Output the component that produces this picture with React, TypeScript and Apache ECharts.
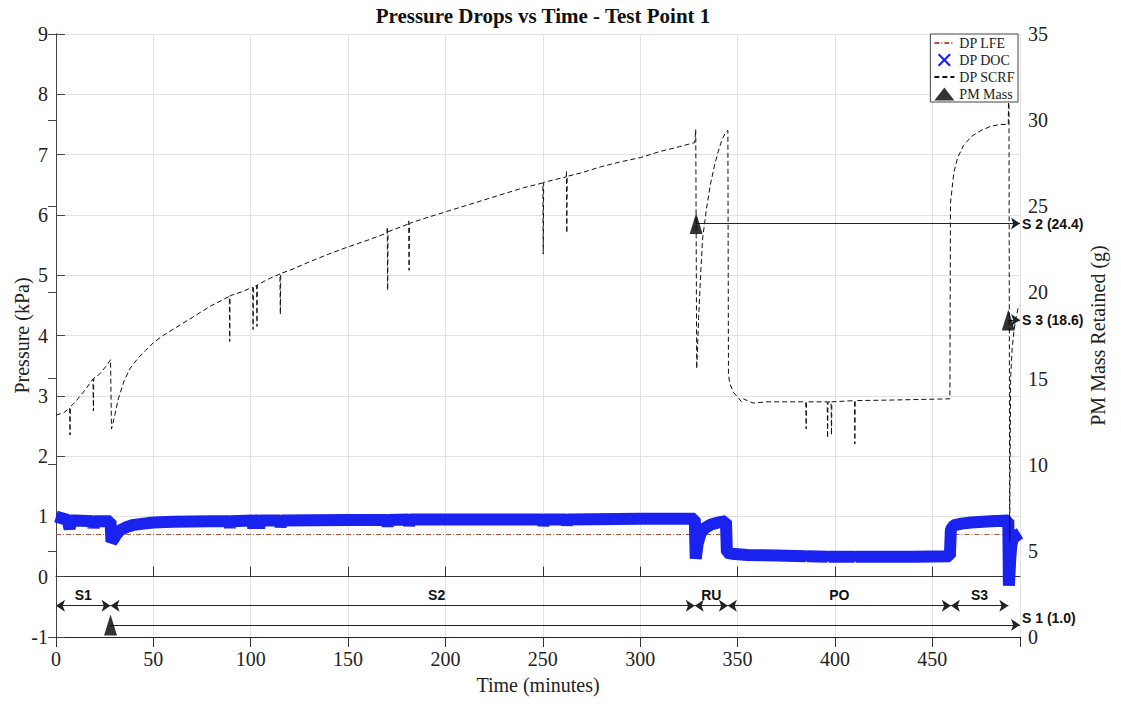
import React, { useEffect, useRef } from "react";
import * as echarts from "echarts";

// ---- data (time in minutes, pressure in kPa, PM mass in g) ----
const lfePoints: [number, number][] = [
  [0, 0.7], [100, 0.7], [200, 0.7], [328, 0.7], [345, 0.7], [345.5, 0.34], [459, 0.34], [459.5, 0.7], [489, 0.7],
];

const docPoints: [number, number][] = [
  [0, 1.0], [3, 0.97], [6, 0.94], [7, 0.79], [7.5, 0.93], [10, 0.93], [19, 0.92], [19.3, 0.81], [19.8, 0.92],
  [28, 0.92], [28.5, 0.58], [29.5, 0.62], [31, 0.7], [33, 0.77], [36, 0.82], [40, 0.86], [45, 0.88], [50, 0.9],
  [60, 0.91], [80, 0.92], [89, 0.92], [89.3, 0.81], [89.7, 0.92], [101, 0.93], [101.3, 0.8], [101.7, 0.93],
  [104, 0.93], [104.3, 0.8], [104.7, 0.93], [115, 0.93], [115.3, 0.82], [115.7, 0.93], [150, 0.94],
  [170, 0.94], [170.3, 0.83], [170.7, 0.94], [181, 0.95], [181.3, 0.84], [181.7, 0.95], [200, 0.95],
  [250, 0.95], [250.3, 0.84], [250.7, 0.95], [262, 0.95], [262.3, 0.85], [262.7, 0.95], [300, 0.96],
  [328, 0.96], [328.5, 0.3], [329.5, 0.55], [331, 0.72], [333, 0.8], [336, 0.86], [340, 0.9], [344, 0.92],
  [344.5, 0.4], [347, 0.38], [355, 0.36], [370, 0.35], [385, 0.34], [385.3, 0.27], [385.7, 0.34],
  [396, 0.33], [396.3, 0.27], [396.7, 0.33], [410, 0.33], [410.3, 0.27], [410.7, 0.33], [440, 0.33],
  [459, 0.34], [459.5, 0.78], [461, 0.85], [465, 0.88], [470, 0.9], [480, 0.92], [489, 0.93],
  [489.3, -0.15], [490, 0.3], [490.5, 0.5], [491, 0.6], [492, 0.65], [494, 0.7], [495, 0.72],
];

const scrfPoints: [number, number][] = [
  [0, 2.68], [4, 2.72], [7, 2.8], [7.2, 2.35], [7.4, 2.82], [10, 2.9], [15, 3.1], [19, 3.28], [19.2, 2.75],
  [19.4, 3.29], [22, 3.35], [26, 3.5], [28, 3.6], [28.5, 2.45], [30, 2.65], [32, 2.95], [35, 3.25],
  [38, 3.45], [42, 3.62], [46, 3.75], [50, 3.88], [55, 4.0], [60, 4.1], [65, 4.2], [70, 4.3], [75, 4.4],
  [80, 4.5], [85, 4.58], [89, 4.65], [89.2, 3.9], [89.4, 4.66], [95, 4.72], [101, 4.8], [101.2, 4.1],
  [101.4, 4.81], [103, 4.83], [103.2, 4.15], [103.4, 4.84], [110, 4.95], [115, 5.02], [115.2, 4.35],
  [115.4, 5.03], [120, 5.08], [130, 5.22], [140, 5.35], [150, 5.47], [160, 5.58], [170, 5.7], [170.1, 5.8],
  [170.3, 4.75], [170.5, 5.72], [181, 5.85], [181.1, 5.9], [181.3, 5.08], [181.5, 5.86], [190, 5.95],
  [200, 6.05], [210, 6.15], [220, 6.25], [230, 6.35], [240, 6.45], [250, 6.53], [250.2, 5.35],
  [250.4, 6.54], [262, 6.63], [262.1, 6.72], [262.3, 5.7], [262.5, 6.64], [270, 6.7], [280, 6.8],
  [290, 6.88], [300, 6.95], [310, 7.05], [320, 7.13], [328, 7.2], [328.5, 7.42], [329, 3.45], [330, 4.3],
  [331, 5.0], [332, 5.6], [334, 6.1], [336, 6.5], [338, 6.8], [340, 7.05], [342, 7.25], [344, 7.38],
  [345, 7.4], [345.3, 3.35], [346, 3.2], [348, 3.05], [350, 2.98], [352, 2.9], [353, 2.95], [355, 2.92],
  [358, 2.88], [365, 2.9], [380, 2.9], [385, 2.9], [385.2, 2.45], [385.4, 2.9], [396, 2.9], [396.2, 2.3],
  [396.4, 2.9], [398, 2.9], [398.2, 2.35], [398.4, 2.9], [410, 2.92], [410.2, 2.2], [410.4, 2.92],
  [430, 2.93], [459, 2.95], [459.3, 6.2], [460, 6.4], [461, 6.7], [463, 6.95], [466, 7.15], [470, 7.3],
  [475, 7.4], [480, 7.47], [485, 7.5], [489, 7.5], [489.3, 8.6], [489.7, 0.6], [490.2, 3.3], [491, 3.8],
  [492, 4.1], [493, 4.3], [494, 4.45], [495, 4.5],
];

// PM mass retained at the end of each soot loading stage (positions)
const pmTimes = [28, 328.7, 489];
const pmMass = [0.7, 24.0, 18.4];
const pmLabels = ["S 1 (1.0)", "S 2 (24.4)", "S 3 (18.6)"];

// test phases
const phaseNames = ["S1", "S2", "RU", "PO", "S3"];
const phaseStart = [0, 28, 328, 345, 459.5];
const phaseEnd = [28, 328, 345, 459.5, 489];
const phaseLevel = -0.48;

const xMin = 0;
const xMax = 495;
const serif = "Liberation Serif";
const sans = "Liberation Sans";

const crossIcon =
  "path://M0,1.2L1.2,0L5,3.8L8.8,0L10,1.2L6.2,5L10,8.8L8.8,10L5,6.2L1.2,10L0,8.8L3.8,5Z";

export default function App() {
  const ref = useRef<HTMLDivElement>(null);

  useEffect(() => {
    document.body.style.margin = "0";
    if (!ref.current) return;
    const chart = echarts.init(ref.current, undefined, { renderer: "svg" });

    const phaseLines = phaseNames.map((n, i) => [
      { name: n, coord: [phaseStart[i], phaseLevel], label: n === "S2" ? { offset: [34, 0] } : undefined },
      { coord: [phaseEnd[i], phaseLevel] },
    ]);

    const massLines = pmMass.map((m, i) => [
      { name: pmLabels[i], coord: [pmTimes[i], m], label: i === 0 ? { offset: [0, -7] } : undefined },
      { coord: [xMax, m], label: i === 0 ? { offset: [0, -7] } : undefined },
    ]);

    const option: any = {
      animation: false,
      backgroundColor: "#fff",
      title: {
        text: "Pressure Drops vs Time - Test Point 1",
        left: 538,
        textAlign: "center",
        top: 0,
        textStyle: { fontFamily: serif, fontWeight: "bold", fontSize: 21, color: "#111" },
      },
      legend: {
        orient: "vertical",
        right: 103,
        top: 34,
        z: 20,
        itemGap: 3,
        itemWidth: 20,
        itemHeight: 13,
        padding: [2, 3, 1, 3],
        borderColor: "#444",
        borderWidth: 1,
        backgroundColor: "#fff",
        textStyle: { fontFamily: serif, fontSize: 14, color: "#222" },
        data: [
          { name: "DP LFE", itemStyle: { opacity: 0 } },
          { name: "DP DOC", icon: crossIcon, itemHeight: 8 },
          { name: "DP SCRF", itemStyle: { opacity: 0 } },
          { name: "PM Mass", icon: "triangle" },
        ],
      },
      grid: { left: 56, right: 101, top: 34, bottom: 67, outerBoundsMode: "none", containLabel: false },
      xAxis: [
        {
          type: "value",
          min: xMin,
          max: xMax,
          interval: 50,
          position: "bottom",
          name: "Time (minutes)",
          nameLocation: "middle",
          nameGap: 38,
          nameMoveOverlap: false,
          nameTextStyle: { fontFamily: serif, fontSize: 20, color: "#222" },
          axisLine: { show: true, lineStyle: { color: "#333", width: 1 } },
          axisTick: { show: true, inside: true, length: 10, lineStyle: { color: "#333" } },
          axisLabel: { fontFamily: serif, fontSize: 20, color: "#222", margin: 12, showMaxLabel: false },
          splitLine: { show: true, lineStyle: { color: "#e2e2e2", width: 1 } },
        },
        {
          type: "value",
          min: xMin,
          max: xMax,
          interval: 50,
          position: "top",
          axisLine: { show: true, lineStyle: { color: "#222", width: 1 } },
          axisTick: { show: true, inside: true, length: 10, lineStyle: { color: "#333" } },
          axisLabel: { show: false },
          splitLine: { show: false },
        },
      ],
      yAxis: [
        {
          type: "value",
          min: -1,
          max: 9,
          interval: 1,
          position: "left",
          name: "Pressure (kPa)",
          nameLocation: "middle",
          nameGap: 24,
          nameRotate: 90,
          nameMoveOverlap: false,
          nameTextStyle: { fontFamily: serif, fontSize: 20, color: "#222" },
          axisLine: { show: true, lineStyle: { color: "#444", width: 1 } },
          axisTick: { show: true, inside: true, length: 9, lineStyle: { color: "#444" } },
          axisLabel: { fontFamily: serif, fontSize: 20, color: "#222", margin: 8 },
          splitLine: { show: true, lineStyle: { color: "#e2e2e2", width: 1 } },
        },
        {
          type: "value",
          min: 0,
          max: 35,
          interval: 5,
          position: "right",
          name: "PM Mass Retained (g)",
          nameLocation: "middle",
          nameGap: 68,
          nameRotate: 90,
          nameTextStyle: { fontFamily: serif, fontSize: 20, color: "#222" },
          axisLine: { show: true, lineStyle: { color: "#444", width: 1 } },
          axisTick: { show: true, inside: true, length: 8, lineStyle: { color: "#444" } },
          axisLabel: { fontFamily: serif, fontSize: 20, color: "#222", margin: 8 },
          splitLine: { show: false },
        },
      ],
      series: [
        {
          name: "DP LFE",
          type: "line",
          xAxisIndex: 0,
          yAxisIndex: 0,
          data: lfePoints,
          symbol: "none",
          z: 2,
          lineStyle: { color: "#b5543c", width: 1, type: [5, 2, 1, 2] },
          itemStyle: { color: "#b5543c" },
          markLine: {
            silent: true,
            symbol: ["arrow", "arrow"],
            symbolSize: 9,
            lineStyle: { color: "#222", width: 1.2, type: "solid" },
            label: {
              show: true,
              position: "middle",
              formatter: (p: any) => phaseNames[p.dataIndex],
              fontFamily: sans,
              fontWeight: "bold",
              fontSize: 14,
              color: "#111",
              distance: 4,
            },
            data: phaseLines,
          },
        },
        {
          name: "DP DOC",
          type: "line",
          xAxisIndex: 0,
          yAxisIndex: 0,
          data: docPoints,
          symbol: "none",
          z: 3,
          lineStyle: { color: "#1a22f0", width: 12 },
          itemStyle: { color: "#1a22f0" },
        },
        {
          name: "DP SCRF",
          type: "line",
          xAxisIndex: 0,
          yAxisIndex: 0,
          data: scrfPoints,
          symbol: "none",
          z: 4,
          lineStyle: { color: "#111", width: 1, type: [5, 3] },
          itemStyle: { color: "#111" },
        },
        {
          name: "PM Mass",
          type: "scatter",
          xAxisIndex: 0,
          yAxisIndex: 1,
          clip: false,
          data: pmTimes.map((t, i) => [t, pmMass[i]]),
          symbol: "triangle",
          symbolSize: [13, 21],
          z: 6,
          itemStyle: { color: "#000" },
          markLine: {
            silent: true,
            symbol: ["none", "arrow"],
            symbolSize: 9,
            lineStyle: { color: "#222", width: 1.2, type: "solid" },
            label: {
              show: true,
              position: "end",
              distance: 2,
              formatter: (p: any) => pmLabels[p.dataIndex],
              fontFamily: sans,
              fontWeight: "bold",
              fontSize: 14,
              color: "#111",
            },
            data: massLines,
          },
        },
      ],
    };

    chart.setOption(option);
    return () => chart.dispose();
  }, []);

  return <div ref={ref} style={{ width: 1121, height: 704 }} />;
}
